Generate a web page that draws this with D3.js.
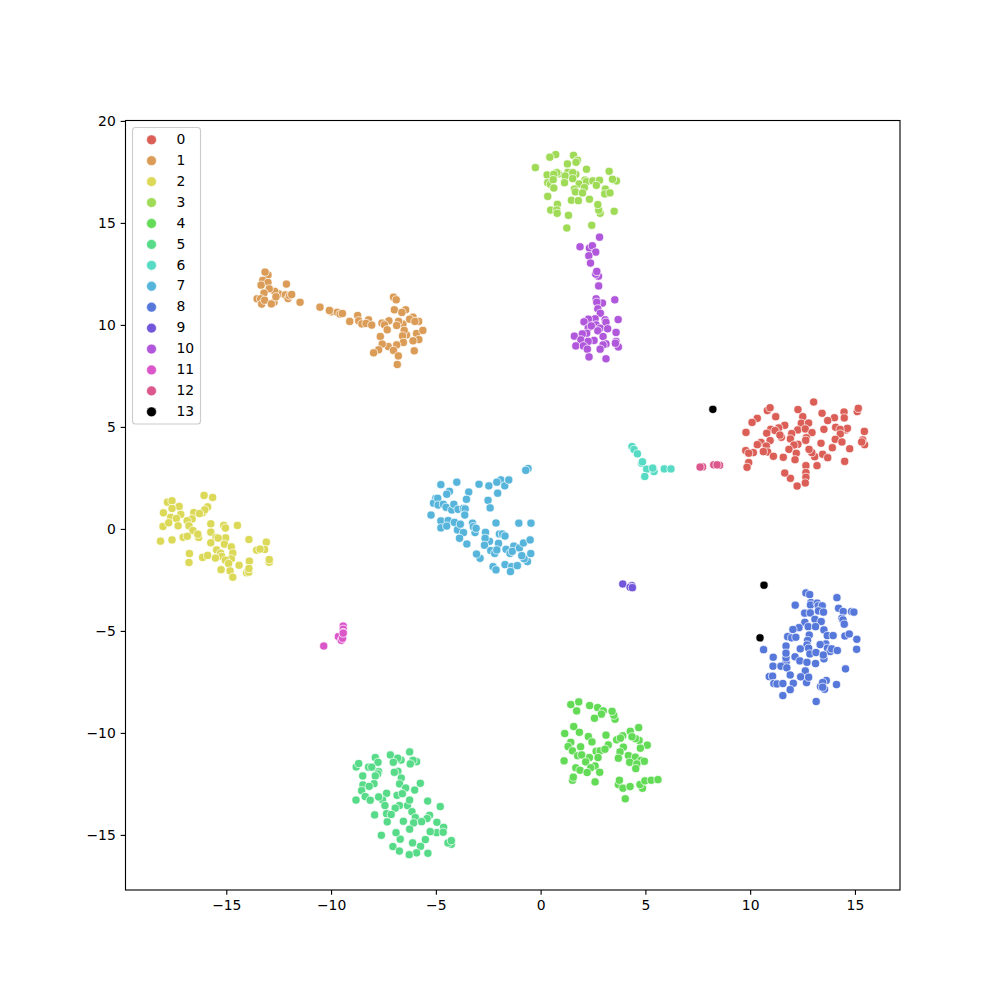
<!DOCTYPE html>
<html>
<head>
<meta charset="utf-8">
<script src="https://cdn.jsdelivr.net/npm/d3@7"></script>
<style>
html, body { margin: 0; padding: 0; background: #fff; }
svg { display: block; }
text { font-family: "DejaVu Sans"; font-size: 13.9px; fill: #000; }
</style>
</head>
<body>
<svg id="chart" width="1000" height="1000"></svg>
<script>
var labels = ["0","1","2","3","4","5","6","7","8","9","10","11","12","13"];
var colors = ["#db5f57","#db9c57","#dbd957","#a0db57","#63db57","#57db88","#57dbc4","#57b5db","#5778db","#7357db","#b057db","#db57c9","#db578c","#000000"];
var xTicks = [-15,-10,-5,0,5,10,15];
var yTicks = [-15,-10,-5,0,5,10,15,20];

var points0 = [[13.03,6.22],[15.11,5.75],[15.16,5.91],[10.82,5.80],[10.95,5.94],[12.28,5.85],[11.22,5.50],[10.34,5.42],[10.09,5.22],[13.43,5.67],[14.48,5.73],[14.49,5.44],[14.02,5.45],[13.70,5.31],[12.51,5.50],[12.44,5.18],[12.79,5.19],[11.65,5.08],[11.36,4.95],[10.98,4.88],[11.19,4.82],[10.79,4.69],[9.80,4.73],[12.27,4.85],[12.63,4.90],[12.95,4.72],[11.98,4.67],[11.92,4.41],[11.49,4.49],[11.42,4.60],[13.52,4.88],[14.08,4.98],[14.56,4.85],[14.64,4.93],[14.29,4.88],[14.30,4.65],[14.06,4.39],[14.38,4.26],[15.45,4.78],[15.46,4.13],[15.37,4.36],[15.32,4.26],[14.75,3.93],[12.68,4.47],[12.65,4.34],[13.38,4.20],[10.95,4.33],[10.52,4.24],[10.34,4.13],[10.77,4.06],[10.84,3.77],[10.63,3.79],[11.11,3.56],[11.58,3.51],[9.79,3.84],[10.15,3.74],[9.93,3.71],[9.93,3.25],[9.85,3.02],[12.28,4.15],[12.09,4.11],[11.85,3.90],[12.20,3.71],[12.14,3.39],[13.08,3.54],[12.94,3.74],[12.81,3.90],[13.46,3.66],[13.70,3.49],[13.92,3.98],[14.51,3.31],[13.19,3.10],[12.66,3.10],[12.66,2.76],[12.66,2.53],[12.63,2.25],[12.24,2.10],[11.92,2.48],[11.65,2.74]];
var points1 = [[-13.01,12.45],[-13.15,12.59],[-13.26,12.18],[-13.01,12.08],[-13.34,11.95],[-12.13,12.0],[-12.50,11.52],[-12.69,11.64],[-12.95,11.77],[-13.2,11.56],[-13.53,11.28],[-13.36,11.28],[-13.31,11.02],[-13.17,11.21],[-12.72,11.11],[-12.85,11.03],[-12.63,11.38],[-12.18,11.47],[-12.05,11.29],[-11.98,11.43],[-11.88,11.49],[-11.48,11.11],[-10.53,10.87],[-9.99,10.64],[-10.08,10.71],[-9.70,10.62],[-9.57,10.53],[-9.46,10.56],[-9.11,10.17],[-8.73,10.46],[-8.68,10.2],[-8.53,10.05],[-8.21,10.25],[-8.33,10.07],[-8.06,9.99],[-7.02,11.36],[-6.89,11.23],[-6.98,10.74],[-6.44,10.74],[-6.62,10.61],[-7.24,10.20],[-7.57,10.09],[-7.45,10.0],[-7.32,9.76],[-7.65,9.43],[-6.57,10.04],[-6.78,10.17],[-6.87,9.97],[-6.09,10.38],[-6.25,10.28],[-5.82,10.17],[-6.0,10.17],[-6.4,9.51],[-6.51,9.73],[-6.59,9.46],[-5.92,9.58],[-5.62,9.73],[-5.81,9.28],[-6.09,9.22],[-6.55,9.14],[-6.87,9.02],[-7.27,8.94],[-7.56,9.06],[-7.73,8.78],[-7.97,8.63],[-7.02,8.75],[-6.79,8.48],[-6.03,8.73],[-6.84,8.06]];
var points2 = [[-16.06,1.64],[-15.65,1.54],[-17.81,1.31],[-17.59,1.38],[-17.25,1.10],[-17.59,1.0],[-18.0,0.79],[-16.55,0.80],[-15.89,1.08],[-16.13,0.79],[-16.03,0.93],[-16.28,0.75],[-17.17,0.71],[-17.65,0.57],[-17.38,0.51],[-16.63,0.49],[-16.87,0.40],[-18.02,0.12],[-17.30,0.15],[-17.75,0.30],[-16.78,0.15],[-16.59,-0.08],[-16.32,-0.42],[-16.36,-0.26],[-17.06,-0.41],[-16.86,-0.36],[-18.14,-0.60],[-17.59,-0.54],[-15.74,0.25],[-15.12,0.17],[-15.04,0.04],[-14.47,0.17],[-15.74,-0.16],[-15.49,-0.41],[-15.03,-0.44],[-15.39,-0.45],[-15.74,-0.68],[-15.09,-0.75],[-13.92,-0.52],[-13.09,-0.65],[-13.55,-1.04],[-13.17,-1.01],[-13.39,-0.99],[-12.95,-1.63],[-12.95,-1.50],[-14.76,-0.88],[-15.46,-1.03],[-14.69,-1.19],[-15.27,-1.19],[-16.76,-1.21],[-16.78,-1.65],[-16.13,-1.40],[-15.89,-1.30],[-15.22,-1.35],[-15.52,-1.43],[-14.76,-1.47],[-15.04,-1.53],[-14.89,-1.70],[-14.39,-1.78],[-15.25,-2.0],[-14.82,-2.06],[-13.90,-1.58],[-14.03,-2.15],[-13.93,-2.12],[-13.92,-1.94],[-14.69,-2.37]];
var points3 = [[0.72,18.35],[0.44,18.22],[1.57,18.31],[1.76,18.07],[1.69,17.97],[1.28,17.89],[-0.25,17.71],[2.19,17.63],[3.27,17.53],[3.62,17.06],[3.43,17.14],[0.31,17.35],[0.85,17.40],[0.77,17.46],[0.63,17.38],[1.30,17.48],[1.68,17.38],[1.53,17.46],[1.17,17.30],[1.53,17.17],[0.34,16.97],[0.47,16.89],[0.60,17.12],[1.14,16.97],[0.63,16.71],[2.12,17.10],[1.84,16.91],[2.19,17.02],[2.49,17.06],[2.81,17.09],[2.66,16.84],[3.09,16.66],[3.06,16.42],[3.31,16.47],[1.61,16.66],[1.66,16.52],[2.09,16.73],[2.0,16.47],[0.34,16.30],[1.47,16.11],[1.80,16.09],[2.33,16.16],[2.84,15.47],[2.77,15.63],[2.73,15.90],[0.80,15.91],[0.48,15.63],[0.77,15.63],[0.79,15.47],[1.33,15.37],[3.51,15.57],[1.25,14.75],[2.44,14.88]];
var points4 = [[1.44,-8.61],[1.82,-8.48],[1.72,-8.92],[2.34,-8.66],[2.72,-8.76],[2.99,-8.92],[2.90,-9.08],[2.57,-9.28],[3.55,-9.33],[3.49,-9.13],[3.41,-8.94],[1.58,-9.69],[1.85,-9.97],[1.15,-10.03],[2.28,-10.18],[2.45,-10.44],[3.12,-10.11],[3.63,-10.34],[3.92,-10.14],[3.81,-10.26],[4.28,-9.92],[4.68,-9.74],[4.70,-10.37],[4.52,-10.28],[4.36,-10.19],[5.09,-10.60],[4.76,-10.75],[1.44,-10.46],[1.31,-10.67],[1.91,-10.68],[1.52,-10.88],[3.23,-10.59],[2.65,-10.90],[2.84,-10.88],[3.07,-10.80],[3.95,-10.70],[3.79,-10.93],[1.77,-11.12],[1.96,-11.08],[2.33,-11.21],[2.74,-11.21],[1.12,-11.37],[3.71,-11.24],[4.19,-11.11],[4.52,-11.19],[4.25,-11.44],[4.79,-11.35],[4.95,-11.39],[4.59,-11.52],[4.54,-11.75],[2.15,-11.42],[2.60,-11.62],[2.39,-11.71],[1.68,-11.71],[1.88,-11.83],[2.22,-11.94],[2.82,-11.93],[1.52,-12.32],[1.56,-12.17],[2.60,-12.40],[3.71,-12.53],[3.76,-12.32],[3.93,-12.71],[4.27,-12.63],[4.86,-12.71],[4.74,-12.53],[4.98,-12.35],[5.28,-12.32],[5.60,-12.29],[4.04,-13.23]];
var points5 = [[-6.25,-10.93],[-7.17,-11.08],[-7.89,-11.21],[-6.66,-11.33],[-6.82,-11.24],[-7.03,-11.44],[-7.76,-11.44],[-8.80,-11.67],[-8.68,-11.50],[-8.21,-11.68],[-8.06,-11.68],[-5.92,-11.41],[-6.09,-11.34],[-6.22,-11.52],[-6.81,-11.88],[-6.98,-11.93],[-7.73,-11.90],[-7.78,-12.01],[-8.49,-12.11],[-7.89,-12.11],[-6.65,-12.21],[-5.74,-12.47],[-6.73,-12.50],[-7.95,-12.49],[-8.48,-12.55],[-8.54,-12.83],[-8.18,-12.62],[-6.44,-12.70],[-6.01,-12.80],[-7.35,-12.96],[-6.85,-13.06],[-6.60,-12.98],[-7.54,-13.29],[-7.73,-13.14],[-8.37,-13.12],[-8.81,-13.29],[-8.13,-13.30],[-7.43,-13.56],[-6.35,-13.56],[-6.25,-13.29],[-5.39,-13.34],[-6.74,-13.56],[-6.94,-13.69],[-4.79,-13.61],[-6.14,-13.86],[-7.35,-13.96],[-7.13,-14.0],[-7.92,-14.02],[-5.98,-14.15],[-5.30,-14.04],[-5.42,-14.20],[-6.55,-14.33],[-7.32,-14.36],[-5.68,-14.35],[-6.06,-14.41],[-4.95,-14.38],[-4.63,-14.63],[-6.25,-14.72],[-4.96,-14.89],[-4.65,-14.87],[-5.27,-14.84],[-7.60,-15.02],[-6.70,-15.21],[-6.90,-14.89],[-5.50,-15.23],[-6.11,-15.39],[-5.73,-15.56],[-7.05,-15.57],[-6.74,-15.79],[-5.92,-15.88],[-6.27,-15.97],[-5.38,-15.90],[-4.26,-15.46],[-4.42,-15.39],[-4.26,-15.28]];
var points6 = [[4.36,4.04],[4.46,3.89],[4.62,3.68],[4.82,3.22],[4.86,3.29],[5.06,2.93],[5.41,2.81],[5.35,2.98],[4.97,2.57],[5.90,2.94],[6.22,2.94]];
var points7 = [[-0.60,2.96],[-0.71,2.87],[-4.76,2.17],[-4.0,2.29],[-2.94,2.19],[-2.47,2.11],[-1.90,2.40],[-1.71,2.11],[-2.09,2.29],[-1.52,2.40],[-4.35,1.84],[-4.48,1.70],[-3.43,1.81],[-2.05,1.75],[-3.54,1.45],[-2.51,1.40],[-2.41,1.03],[-5.0,1.50],[-5.11,1.26],[-4.91,1.50],[-4.89,1.17],[-4.64,1.21],[-4.51,1.06],[-4.24,0.93],[-4.14,1.21],[-3.94,0.96],[-3.68,1.01],[-3.60,0.98],[-3.62,0.68],[-5.23,0.68],[-4.76,0.39],[-4.76,0.05],[-4.41,0.41],[-4.48,0.14],[-4.11,0.32],[-3.97,-0.05],[-3.83,0.23],[-3.68,-0.18],[-3.87,-0.46],[-3.52,-0.74],[-3.13,-0.18],[-3.25,0.28],[-3.21,0.11],[-3.08,0.03],[-2.13,0.29],[-1.04,0.28],[-0.46,0.28],[-2.63,-0.17],[-2.44,-0.61],[-2.65,-0.46],[-2.68,-0.80],[-1.97,-0.25],[-1.82,-0.25],[-1.70,-0.35],[-2.01,-0.71],[-2.38,-1.06],[-2.19,-1.20],[-2.09,-1.03],[-1.65,-1.0],[-1.46,-1.20],[-1.28,-0.84],[-1.35,-1.10],[-1.01,-0.93],[-0.82,-0.69],[-0.50,-0.54],[-0.47,-1.21],[-0.63,-1.60],[-0.79,-1.46],[-0.90,-1.31],[-2.89,-1.44],[-3.06,-1.23],[-2.27,-1.85],[-2.13,-2.01],[-1.70,-1.75],[-1.38,-1.85],[-1.44,-2.09],[-1.11,-1.80]];
var points8 = [[12.66,-3.14],[12.84,-3.22],[14.14,-3.37],[12.15,-3.74],[12.90,-3.61],[12.88,-3.73],[13.20,-3.64],[13.25,-3.77],[13.44,-3.77],[14.22,-3.89],[14.44,-4.05],[14.84,-4.05],[14.95,-4.08],[12.60,-4.13],[12.87,-4.12],[13.26,-4.02],[13.50,-4.08],[13.09,-4.43],[13.39,-4.54],[14.38,-4.38],[14.43,-4.46],[14.49,-4.67],[12.61,-4.58],[12.77,-4.79],[13.12,-4.79],[12.33,-4.84],[12.04,-4.93],[13.52,-4.95],[12.82,-5.20],[13.68,-5.23],[13.96,-5.23],[14.52,-5.25],[14.73,-5.15],[15.09,-5.41],[15.08,-5.90],[11.79,-5.28],[11.98,-5.34],[12.18,-5.31],[12.74,-5.47],[12.71,-5.69],[11.71,-5.74],[13.61,-5.64],[13.34,-5.67],[13.69,-5.85],[10.64,-5.92],[12.39,-5.88],[12.79,-5.85],[12.85,-6.13],[13.14,-6.06],[13.82,-6.01],[13.89,-5.88],[14.16,-5.96],[13.52,-6.37],[13.49,-6.18],[11.10,-6.29],[11.71,-6.54],[11.71,-6.32],[11.71,-6.09],[12.14,-6.27],[12.37,-6.47],[12.71,-6.54],[13.12,-6.60],[11.09,-6.73],[11.47,-6.73],[11.75,-6.81],[12.63,-6.96],[14.55,-6.86],[11.91,-7.16],[12.69,-7.53],[12.41,-7.25],[12.79,-7.27],[10.91,-7.24],[11.07,-7.22],[11.13,-7.58],[11.28,-7.60],[11.56,-7.58],[12.06,-7.57],[11.91,-7.88],[11.56,-8.17],[13.63,-7.43],[13.55,-7.86],[13.36,-7.73],[13.46,-7.53],[13.46,-7.76],[14.12,-7.63],[13.15,-8.46]];
var points9 = [[3.92,-2.70],[4.35,-2.78],[4.27,-2.86],[4.38,-2.88]];
var points10 = [[2.81,14.30],[1.88,13.83],[2.33,13.76],[2.47,13.88],[2.63,13.57],[2.30,13.39],[2.38,13.03],[2.76,12.39],[2.63,12.49],[2.68,12.62],[2.77,11.91],[2.65,11.28],[2.95,11.07],[2.68,11.11],[2.73,10.79],[3.54,11.23],[2.85,10.57],[3.70,10.26],[2.60,10.30],[2.28,10.28],[2.07,10.15],[3.08,10.25],[3.12,10.13],[2.65,10.0],[2.84,9.84],[2.27,9.84],[2.42,9.95],[3.20,9.81],[2.73,9.71],[2.20,9.59],[1.61,9.45],[1.99,9.56],[3.60,9.63],[1.92,9.27],[2.55,9.24],[2.27,9.19],[2.98,9.43],[3.12,9.07],[2.98,9.02],[1.68,8.97],[2.04,8.97],[2.84,8.81],[2.23,8.81],[3.71,8.92],[3.60,9.19],[3.57,9.10],[2.31,8.43],[3.12,8.34]];
var points11 = [[-10.35,-5.74],[-9.42,-4.76],[-9.42,-4.92],[-9.65,-5.28],[-9.51,-5.46],[-9.45,-5.36],[-9.42,-5.08],[-9.42,-5.11]];
var points12 = [[7.73,3.04],[7.61,3.03],[8.54,3.12],[8.26,3.14],[8.42,3.14]];
var points13 = [[8.22,5.86],[10.66,-2.76],[10.47,-5.34]];
var clusters = [points0,points1,points2,points3,points4,points5,points6,points7,points8,points9,points10,points11,points12,points13];

var svg = d3.select("#chart");
var left = 125.5, right = 900, top_ = 120.5, bottom = 890;

var x = d3.scaleLinear().domain([-19.81, 17.15]).range([left, right]);
var y = d3.scaleLinear().domain([-17.7, 20.02]).range([bottom, top_]);

function tickText(d) {
    return String(d).replace("-", "\u2212");
}

clusters.forEach(function (pts, i) {
    svg.append("g")
        .selectAll("circle")
        .data(pts)
        .enter()
        .append("circle")
        .attr("cx", function (d) { return x(d[0]); })
        .attr("cy", function (d) { return y(d[1]); })
        .attr("r", 4.1)
        .attr("fill", colors[i])
        .attr("stroke", "#fff")
        .attr("stroke-width", 0.7);
});

var xAxis = svg.append("g")
    .attr("transform", "translate(0," + bottom + ")")
    .call(d3.axisBottom(x).tickValues(xTicks).tickFormat(tickText).tickSize(4.86).tickPadding(5));
var yAxis = svg.append("g")
    .attr("transform", "translate(" + left + ",0)")
    .call(d3.axisLeft(y).tickValues(yTicks).tickFormat(tickText).tickSize(4.86).tickPadding(4.9));

svg.selectAll(".tick line").attr("stroke", "#000").attr("stroke-width", 1.11);
svg.selectAll(".tick text").attr("fill", "#000").style("font-size", "13.9px").style("font-family", "DejaVu Sans");
xAxis.select(".domain").remove();
yAxis.select(".domain").remove();

svg.append("rect")
    .attr("x", left)
    .attr("y", top_)
    .attr("width", right - left)
    .attr("height", bottom - top_)
    .attr("fill", "none")
    .attr("stroke", "#000")
    .attr("stroke-width", 1.11);

// legend
var legend = svg.append("g");
legend.append("rect")
    .attr("x", 132.5)
    .attr("y", 127.5)
    .attr("width", 68)
    .attr("height", 296.5)
    .attr("rx", 3)
    .attr("fill", "#fff")
    .attr("fill-opacity", 0.8)
    .attr("stroke", "#ccc")
    .attr("stroke-width", 1.11);

var rowY = d3.scalePoint().domain(labels).range([139.8, 411.8]);

labels.forEach(function (name, i) {
    legend.append("circle")
        .attr("cx", 151.5)
        .attr("cy", rowY(name))
        .attr("r", 4.9)
        .attr("fill", colors[i])
        .attr("stroke", "#fff")
        .attr("stroke-width", 0.5);
    legend.append("text")
        .attr("x", 176.5)
        .attr("y", rowY(name) + 4.2)
        .text(name);
});
</script>
</body>
</html>
